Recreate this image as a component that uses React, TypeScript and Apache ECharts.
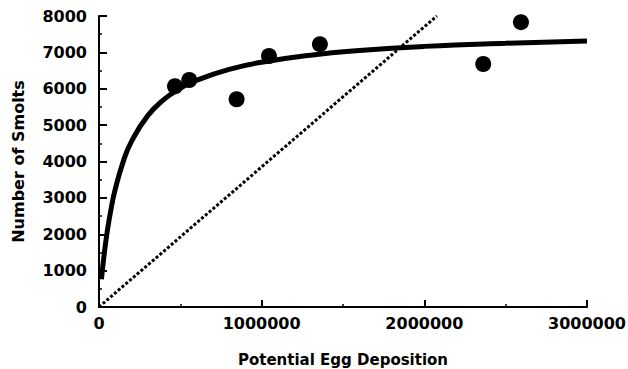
import React, { useEffect, useRef } from "react";
import * as echarts from "echarts";

// Observed stock-recruitment points
const eggDeposition = [467000, 555000, 846000, 1045000, 1358000, 2362000, 2594000];
const smolts = [6070, 6240, 5710, 6900, 7225, 6680, 7830];

// Fitted curve
const curveEggs = [15000, 30000, 50000, 75000, 100000, 150000, 200000, 300000, 400000, 500000, 600000, 800000, 1000000, 1300000, 1600000, 2000000, 2500000, 3000000];
const curveSmolts = [760, 1378, 2055, 2718, 3240, 4011, 4552, 5262, 5706, 6011, 6233, 6535, 6730, 6922, 7051, 7165, 7252, 7313];

// Replacement (1:1) line
const replacementEggs = [0, 2077000];
const replacementSmolts = [0, 8000];

const xTicks = [0, 1000000, 2000000, 3000000];
const yTicks = [0, 1000, 2000, 3000, 4000, 5000, 6000, 7000, 8000];

const FONT = "DejaVu Sans";

export default function App() {
  const ref = useRef<HTMLDivElement>(null);
  useEffect(() => {
    if (!ref.current) return;
    const chart = echarts.init(ref.current, undefined, { renderer: "svg" });
    const pair = (xs: number[], ys: number[]) => xs.map((x, i) => [x, ys[i]]);
    const plain = (v: number) => String(v);
    chart.setOption({
      animation: false,
      backgroundColor: "#ffffff",
      grid: { left: 99, right: 41, top: 16, bottom: 62, outerBoundsMode: "none", containLabel: false },
      xAxis: {
        type: "value",
        min: xTicks[0],
        max: xTicks[xTicks.length - 1],
        interval: 1000000,
        name: "Potential Egg Deposition",
        nameLocation: "middle",
        nameGap: 45,
        nameTextStyle: { fontFamily: FONT, fontWeight: "bold", fontSize: 15, color: "#000" },
        axisLine: { show: true, lineStyle: { color: "#000", width: 2 } },
        axisTick: { show: true, inside: true, length: 7, lineStyle: { color: "#000", width: 2 } },
        minorTick: { show: true, splitNumber: 2, length: 3, lineStyle: { color: "#000", width: 1.5 } },
        axisLabel: { fontFamily: FONT, fontWeight: "bold", fontSize: 16, color: "#000", margin: 8, formatter: plain },
        splitLine: { show: false },
      },
      yAxis: {
        type: "value",
        min: yTicks[0],
        max: yTicks[yTicks.length - 1],
        interval: 1000,
        name: "Number of Smolts",
        nameLocation: "middle",
        nameGap: 73,
        nameTextStyle: { fontFamily: FONT, fontWeight: "bold", fontSize: 16, color: "#000" },
        axisLine: { show: true, lineStyle: { color: "#000", width: 2 } },
        axisTick: { show: true, inside: true, length: 8, lineStyle: { color: "#000", width: 2 } },
        minorTick: { show: true, splitNumber: 2, length: 3, lineStyle: { color: "#000", width: 1.5 } },
        axisLabel: { fontFamily: FONT, fontWeight: "bold", fontSize: 16, color: "#000", margin: 12, formatter: plain },
        splitLine: { show: false },
      },
      series: [
        {
          type: "line",
          data: pair(replacementEggs, replacementSmolts),
          showSymbol: false,
          symbol: "none",
          lineStyle: { color: "#000", width: 3, type: [3, 2] },
          silent: true,
          z: 1,
        },
        {
          type: "line",
          data: pair(curveEggs, curveSmolts),
          smooth: true,
          showSymbol: false,
          symbol: "none",
          lineStyle: { color: "#000", width: 5 },
          silent: true,
          z: 2,
        },
        {
          type: "scatter",
          data: pair(eggDeposition, smolts),
          symbol: "circle",
          symbolSize: 16,
          itemStyle: { color: "#000", opacity: 1 },
          z: 3,
        },
      ],
    });
    return () => chart.dispose();
  }, []);
  return <div ref={ref} style={{ position: "fixed", left: 0, top: 0, width: 628, height: 369 }} />;
}
